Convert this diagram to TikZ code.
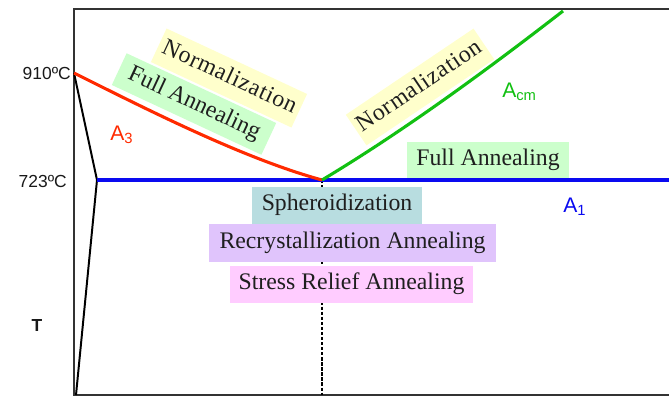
\documentclass[tikz,border=0pt]{standalone}
\usepackage{fontspec}
\setmainfont{Liberation Serif}
\newfontfamily\arialfont{Liberation Sans}
\usetikzlibrary{calc}
\definecolor{AThree}{HTML}{FF2A00}
\definecolor{ACm}{HTML}{12C012}
\definecolor{AOne}{HTML}{0A0AF0}
\definecolor{NormYellow}{HTML}{FFFFCC}
\definecolor{FullGreen}{HTML}{CCFFCC}
\definecolor{SpherTeal}{HTML}{B8DDE0}
\definecolor{RecrLilac}{HTML}{E0C4FC}
\definecolor{StressPink}{HTML}{FFCCFF}
\tikzset{
    tbox/.style = {rectangle, inner sep=0pt, text=black!88,
        minimum height=0.925cm, text height=11.5pt, text depth=3.7pt,
        font=\fontsize{16.9}{18}\selectfont},
    spaced/.style = {font=\fontsize{16.9}{18}\selectfont\addfontfeatures{LetterSpace=3}},
    templbl/.style = {inner sep=0pt, text=black!90,
        font=\arialfont\fontsize{12.4}{14}\selectfont},
    phaselbl/.style = {inner sep=0pt, font=\arialfont\fontsize{15}{17}\selectfont},
    frame/.style = {draw=black!80, line width=1.8pt},
    edge/.style = {draw=black, line width=1.4pt},
    phaseline/.style = {line width=2.2pt}
}

\begin{document}
\begin{tikzpicture}[x=0.025cm,y=0.025cm]
\useasboundingbox (0,0) rectangle (669,397);
\coordinate (frtl) at (74,388);
\coordinate (frtr) at (669,388);
\coordinate (frbl) at (74,2);
\coordinate (frbr) at (669,2);
\coordinate (p910) at (74,324);
\coordinate (kink) at (97,217);
\coordinate (lowend) at (76,2);
\coordinate (eut) at (322,217);
\coordinate (eutlow) at (322,2);
\coordinate (a1end) at (669,217);
\coordinate (acmtop) at (563,386);

\draw[frame] (frtr) -- (frtl) -- (frbl) -- (frbr);
\draw[line width=1.5pt, dash pattern=on 2.4pt off 1.2pt] (eut) -- (eutlow);

\node[tbox, spaced, fill=NormYellow, minimum width=3.875cm, rotate=-25] (normL) at (229,319) {Normalization};
\node[tbox, fill=FullGreen, minimum width=4.125cm, minimum height=0.875cm, rotate=-25] (fullL) at (194,293) {Full Annealing};
\node[tbox, spaced, fill=NormYellow, minimum width=3.85cm, rotate=34] (normR) at (420,310) {Normalization};
\node[tbox, fill=FullGreen, minimum width=4.05cm] (fullR) at (488,236.5) {Full Annealing};
\node[tbox, fill=SpherTeal, minimum width=4.25cm] (spher) at (337,191.5) {Spheroidization};
\node[tbox, fill=RecrLilac, minimum width=7.175cm, minimum height=0.95cm] (recr) at (352.5,154) {Recrystallization Annealing};
\node[tbox, fill=StressPink, minimum width=6.075cm] (stress) at (351.5,112.5) {Stress Relief Annealing};

\draw[edge] (p910) -- (kink) -- (lowend);
\draw[phaseline, AOne, line width=2.4pt] (kink) -- (a1end);
\draw[phaseline, AThree] (p910) .. controls (150,286) and (245,238) .. (eut);
\draw[phaseline, ACm] (eut) .. controls (402,265) and (483,324) .. (acmtop);

\node[templbl, anchor=east] (t910) at (71,324) {910ºC};
\node[templbl, anchor=east] (t723) at (67,216) {723ºC};
\node[templbl, font=\arialfont\bfseries\fontsize{12.4}{14}\selectfont] (taxis) at (37,72) {T};
\node[phaselbl, text=AThree, anchor=base west] (lA3) at (110,257) {A\textsubscript{3}};
\node[phaselbl, text=ACm, anchor=base west] (lAcm) at (502,300) {A\textsubscript{cm}};
\node[phaselbl, text=AOne, anchor=base west] (lA1) at (563,185) {A\textsubscript{1}};
\end{tikzpicture}
\end{document}
